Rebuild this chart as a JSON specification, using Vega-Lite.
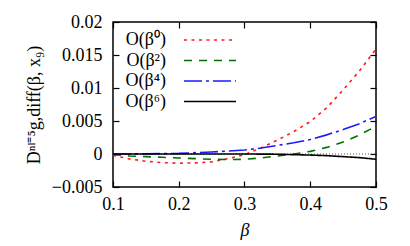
{
  "$schema": "https://vega.github.io/schema/vega-lite/v6.json",
  "width": 263,
  "height": 165,
  "autosize": {"type": "none"},
  "padding": {"left": 113, "top": 22, "right": 34, "bottom": 59},
  "background": "white",
  "config": {
    "font": "Liberation Serif",
    "view": {"stroke": "#000", "strokeWidth": 1.5},
    "axis": {
      "labelFont": "Liberation Serif",
      "labelFontSize": 18,
      "labelColor": "#000",
      "titleFont": "Liberation Serif",
      "titleFontSize": 18,
      "titleFontWeight": "normal",
      "titleColor": "#000",
      "tickColor": "#000",
      "tickWidth": 1.2,
      "tickSize": -6,
      "domain": false,
      "grid": false,
      "labelFlush": false
    },
    "legend": {
      "labelFont": "Liberation Serif",
      "labelFontSize": 18,
      "labelColor": "#000"
    }
  },
  "datasets": {
    "series": [
      {"beta": 0.10, "value": -0.0002, "order": "O(β⁰)"},
      {"beta": 0.125, "value": -0.00075, "order": "O(β⁰)"},
      {"beta": 0.15, "value": -0.0011, "order": "O(β⁰)"},
      {"beta": 0.175, "value": -0.0013, "order": "O(β⁰)"},
      {"beta": 0.20, "value": -0.0014, "order": "O(β⁰)"},
      {"beta": 0.225, "value": -0.00135, "order": "O(β⁰)"},
      {"beta": 0.25, "value": -0.0012, "order": "O(β⁰)"},
      {"beta": 0.275, "value": -0.0007, "order": "O(β⁰)"},
      {"beta": 0.30, "value": -0.0001, "order": "O(β⁰)"},
      {"beta": 0.325, "value": 0.0009, "order": "O(β⁰)"},
      {"beta": 0.35, "value": 0.0021, "order": "O(β⁰)"},
      {"beta": 0.375, "value": 0.0034, "order": "O(β⁰)"},
      {"beta": 0.40, "value": 0.0049, "order": "O(β⁰)"},
      {"beta": 0.425, "value": 0.0070, "order": "O(β⁰)"},
      {"beta": 0.45, "value": 0.0097, "order": "O(β⁰)"},
      {"beta": 0.475, "value": 0.0126, "order": "O(β⁰)"},
      {"beta": 0.50, "value": 0.0159, "order": "O(β⁰)"},

      {"beta": 0.10, "value": -0.0001, "order": "O(β²)"},
      {"beta": 0.125, "value": -0.0003, "order": "O(β²)"},
      {"beta": 0.15, "value": -0.0004, "order": "O(β²)"},
      {"beta": 0.175, "value": -0.0005, "order": "O(β²)"},
      {"beta": 0.20, "value": -0.0006, "order": "O(β²)"},
      {"beta": 0.225, "value": -0.0007, "order": "O(β²)"},
      {"beta": 0.25, "value": -0.0008, "order": "O(β²)"},
      {"beta": 0.275, "value": -0.00085, "order": "O(β²)"},
      {"beta": 0.30, "value": -0.0008, "order": "O(β²)"},
      {"beta": 0.325, "value": -0.0006, "order": "O(β²)"},
      {"beta": 0.35, "value": -0.0003, "order": "O(β²)"},
      {"beta": 0.375, "value": 0.0, "order": "O(β²)"},
      {"beta": 0.40, "value": 0.0004, "order": "O(β²)"},
      {"beta": 0.425, "value": 0.001, "order": "O(β²)"},
      {"beta": 0.45, "value": 0.0018, "order": "O(β²)"},
      {"beta": 0.475, "value": 0.0029, "order": "O(β²)"},
      {"beta": 0.50, "value": 0.0042, "order": "O(β²)"},

      {"beta": 0.10, "value": 0.0, "order": "O(β⁴)"},
      {"beta": 0.15, "value": 0.00002, "order": "O(β⁴)"},
      {"beta": 0.20, "value": 0.0001, "order": "O(β⁴)"},
      {"beta": 0.25, "value": 0.0003, "order": "O(β⁴)"},
      {"beta": 0.275, "value": 0.00045, "order": "O(β⁴)"},
      {"beta": 0.30, "value": 0.0006, "order": "O(β⁴)"},
      {"beta": 0.325, "value": 0.0009, "order": "O(β⁴)"},
      {"beta": 0.35, "value": 0.0013, "order": "O(β⁴)"},
      {"beta": 0.375, "value": 0.0017, "order": "O(β⁴)"},
      {"beta": 0.40, "value": 0.0022, "order": "O(β⁴)"},
      {"beta": 0.425, "value": 0.0029, "order": "O(β⁴)"},
      {"beta": 0.45, "value": 0.0037, "order": "O(β⁴)"},
      {"beta": 0.475, "value": 0.0046, "order": "O(β⁴)"},
      {"beta": 0.50, "value": 0.0057, "order": "O(β⁴)"},

      {"beta": 0.10, "value": 0.0, "order": "O(β⁶)"},
      {"beta": 0.20, "value": 0.0, "order": "O(β⁶)"},
      {"beta": 0.30, "value": 0.0, "order": "O(β⁶)"},
      {"beta": 0.35, "value": -0.00003, "order": "O(β⁶)"},
      {"beta": 0.375, "value": -0.0001, "order": "O(β⁶)"},
      {"beta": 0.40, "value": -0.00016, "order": "O(β⁶)"},
      {"beta": 0.425, "value": -0.00025, "order": "O(β⁶)"},
      {"beta": 0.45, "value": -0.0004, "order": "O(β⁶)"},
      {"beta": 0.475, "value": -0.00055, "order": "O(β⁶)"},
      {"beta": 0.50, "value": -0.0008, "order": "O(β⁶)"}
    ],
    "zero": [
      {"beta": 0.1, "value": 0},
      {"beta": 0.5, "value": 0}
    ]
  },
  "resolve": {"axis": {"x": "independent", "y": "independent"}},
  "layer": [
    {
      "data": {"name": "zero"},
      "mark": {"type": "line", "color": "#555", "strokeWidth": 1, "strokeDash": [1, 2]},
      "encoding": {
        "x": {"field": "beta", "type": "quantitative",
              "scale": {"domain": [0.1, 0.5], "nice": false, "zero": false},
              "axis": {"orient": "top", "labels": false, "title": null, "values": [0.1, 0.2, 0.3, 0.4, 0.5]}},
        "y": {"field": "value", "type": "quantitative",
              "scale": {"domain": [-0.005, 0.02], "nice": false, "zero": false},
              "axis": {"orient": "right", "labels": false, "title": null, "values": [-0.005, 0, 0.005, 0.01, 0.015, 0.02]}}
      }
    },
    {
      "data": {"name": "series"},
      "mark": {"type": "line", "strokeWidth": 1.6, "clip": true},
      "encoding": {
        "x": {"field": "beta", "type": "quantitative",
              "axis": {"orient": "bottom", "title": "β", "titleFontStyle": "italic", "format": ".1f",
                       "values": [0.1, 0.2, 0.3, 0.4, 0.5], "labelPadding": 14, "titlePadding": 8}},
        "y": {"field": "value", "type": "quantitative",
              "axis": {"orient": "left", "title": "Dⁿˡ⁼⁵g,diff(β, x₉)", "format": "~f",
                       "values": [-0.005, 0, 0.005, 0.01, 0.015, 0.02], "labelPadding": 17, "titlePadding": 8}},
        "color": {"field": "order", "type": "nominal",
                  "scale": {"domain": ["O(β⁰)", "O(β²)", "O(β⁴)", "O(β⁶)"],
                            "range": ["#ff1a1a", "#007000", "#1a1aff", "#000000"]},
                  "legend": {"orient": "none", "legendX": 67, "legendY": 9, "title": null,
                             "symbolType": "M-5.2,0H5.2", "symbolSize": 100, "symbolStrokeWidth": 1.6,
                             "symbolOffset": 21, "labelOffset": -53, "labelAlign": "right",
                             "rowPadding": 2.5, "padding": 0}},
        "strokeDash": {"field": "order", "type": "nominal",
                       "scale": {"domain": ["O(β⁰)", "O(β²)", "O(β⁴)", "O(β⁶)"],
                                 "range": [[3, 4.5], [8, 7], [18, 4, 3, 4], [1, 0]]},
                       "legend": {"orient": "none", "legendX": 67, "legendY": 9, "title": null,
                             "symbolType": "M-5.2,0H5.2", "symbolSize": 100, "symbolStrokeWidth": 1.6,
                             "symbolOffset": 21, "labelOffset": -53, "labelAlign": "right",
                             "rowPadding": 2.5, "padding": 0}}
      }
    }
  ]
}
